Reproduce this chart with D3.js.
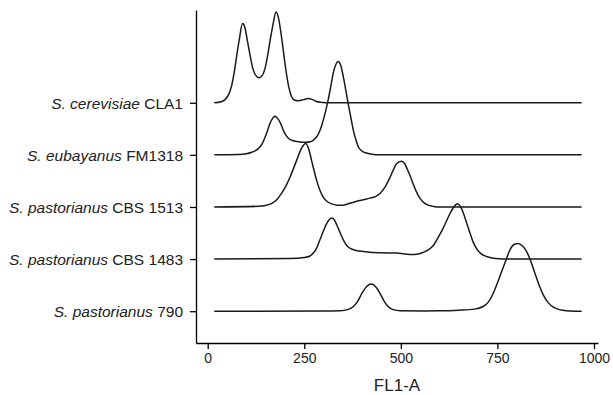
<!DOCTYPE html>
<html>
<head>
<meta charset="utf-8">
<script src="https://cdn.jsdelivr.net/npm/d3@7"></script>
<style>
  html, body { margin: 0; padding: 0; background: #fff; }
  svg { display: block; font-family: "Liberation Sans", Arial, sans-serif; }
</style>
</head>
<body>
<div id="chart"></div>
<script>
// Strains, bottom row first (ridge index 0 at the bottom)
const species = ['S. pastorianus', 'S. pastorianus', 'S. pastorianus', 'S. eubayanus', 'S. cerevisiae'];
const strains = ['790', 'CBS 1483', 'CBS 1513', 'FM1318', 'CLA1'];

const xTicks = [0, 250, 500, 750, 1000];
const xTitle = 'FL1-A';

// Density curves: [FL1-A, height in ridge-spacing units]
const pastorianus790 = [
  [17, 0], [300, 0.002], [343, 0.01], [362, 0.03], [377, 0.09], [389, 0.2], [399, 0.34],
  [412, 0.48], [424, 0.52], [436, 0.46], [446, 0.34], [457, 0.19], [467, 0.09], [480, 0.03],
  [498, 0.008], [560, 0.006], [601, 0.008], [650, 0.02], [690, 0.04], [713, 0.09], [727, 0.18],
  [739, 0.34], [750, 0.54], [761, 0.76], [772, 0.98], [782, 1.17], [793, 1.28], [804, 1.3],
  [815, 1.25], [826, 1.14], [837, 0.95], [847, 0.73], [858, 0.5], [869, 0.31], [882, 0.16],
  [895, 0.077], [910, 0.03], [929, 0.01], [968, 0]
];
const pastorianusCBS1483 = [
  [17, 0], [213, 0.01], [250, 0.03], [265, 0.06], [274, 0.12], [282, 0.21], [290, 0.36],
  [299, 0.53], [310, 0.71], [321, 0.79], [328, 0.75], [334, 0.66], [342, 0.52], [351, 0.37],
  [359, 0.27], [368, 0.21], [385, 0.165], [403, 0.146], [446, 0.12], [489, 0.115], [524, 0.09],
  [545, 0.1], [558, 0.13], [572, 0.18], [584, 0.26], [597, 0.42], [610, 0.6], [627, 0.87],
  [637, 1.0], [647, 1.06], [655, 1.0], [662, 0.88], [670, 0.7], [679, 0.5], [687, 0.33],
  [696, 0.2], [708, 0.1], [722, 0.05], [740, 0.015], [765, 0], [968, 0]
];
const pastorianusCBS1513 = [
  [17, 0], [131, 0.013], [150, 0.03], [166, 0.07], [180, 0.15], [191, 0.26], [203, 0.41],
  [213, 0.57], [230, 0.89], [243, 1.13], [254, 1.22], [262, 1.1], [269, 0.89], [276, 0.68],
  [282, 0.51], [290, 0.33], [299, 0.19], [310, 0.1], [321, 0.06], [336, 0.035], [351, 0.035],
  [368, 0.07], [386, 0.11], [403, 0.14], [420, 0.17], [434, 0.2], [446, 0.26], [459, 0.38],
  [472, 0.57], [481, 0.72], [489, 0.83], [502, 0.88], [510, 0.83], [517, 0.72], [525, 0.58],
  [532, 0.44], [541, 0.28], [550, 0.16], [560, 0.08], [571, 0.035], [585, 0.01], [600, 0], [968, 0]
];
const eubayanusFM1318 = [
  [17, 0], [79, 0.005], [100, 0.02], [114, 0.05], [131, 0.12], [140, 0.2], [148, 0.33],
  [155, 0.47], [161, 0.6], [168, 0.7], [174, 0.74], [181, 0.7], [189, 0.6], [197, 0.45],
  [204, 0.36], [212, 0.3], [222, 0.27], [239, 0.245], [255, 0.24], [265, 0.25], [273, 0.28],
  [285, 0.38], [295, 0.56], [304, 0.8], [312, 1.06], [319, 1.33], [325, 1.57], [332, 1.74],
  [338, 1.79], [345, 1.7], [351, 1.5], [358, 1.22], [364, 0.97], [371, 0.7], [377, 0.47],
  [384, 0.28], [390, 0.15], [400, 0.07], [411, 0.035], [425, 0.01], [446, 0], [968, 0]
];
const cerevisiaeCLA1 = [
  [17, 0], [35, 0.02], [45, 0.06], [55, 0.17], [62, 0.33], [69, 0.6], [75, 0.9], [82, 1.22],
  [90, 1.52], [96, 1.45], [103, 1.18], [110, 0.9], [116, 0.68], [124, 0.53], [133, 0.48],
  [141, 0.52], [148, 0.65], [155, 0.9], [161, 1.17], [169, 1.5], [177, 1.74], [184, 1.6],
  [190, 1.32], [197, 0.93], [203, 0.6], [210, 0.3], [217, 0.12], [225, 0.05], [235, 0.04],
  [248, 0.06], [260, 0.08], [270, 0.065], [280, 0.03], [292, 0.008], [305, 0], [968, 0]
];

const ridges = [pastorianus790, pastorianusCBS1483, pastorianusCBS1513, eubayanusFM1318, cerevisiaeCLA1];

const width = 613;
const height = 395;
const margin = { top: 10, right: 15, bottom: 52, left: 196 };

const svg = d3.select('#chart')
  .append('svg')
  .attr('width', width)
  .attr('height', height);

const x = d3.scaleLinear()
  .domain([-30.3, 1010.4])
  .range([margin.left, width - margin.right]);

const y = d3.scaleLinear()
  .domain([-0.61, 5.78])
  .range([height - margin.bottom, margin.top]);

// Ridge lines (no fill, baselines show through)
const ridgeLine = (row) => d3.line()
  .x(d => x(d[0]))
  .y(d => y(row + d[1]))
  .curve(d3.curveMonotoneX);

ridges.forEach((data, i) => {
  svg.append('path')
    .datum(data)
    .attr('fill', 'none')
    .attr('stroke', '#1a1a1a')
    .attr('stroke-width', 1.5)
    .attr('stroke-linejoin', 'round')
    .attr('d', ridgeLine(i));
});

// X axis
const xAxis = d3.axisBottom(x)
  .tickValues(xTicks)
  .tickFormat(d3.format('d'))
  .tickSize(6)
  .tickPadding(4)
  .tickSizeOuter(0);

const xAxisGroup = svg.append('g')
  .attr('transform', `translate(0,${height - margin.bottom})`)
  .call(xAxis);
xAxisGroup.select('.domain').attr('stroke', '#000').attr('stroke-width', 1.3);
xAxisGroup.selectAll('line').attr('stroke', '#000').attr('stroke-width', 1.3);
xAxisGroup.selectAll('text')
  .attr('fill', '#222')
  .style('font-size', '14px');

// Y axis with italic species + strain labels
const yAxis = d3.axisLeft(y)
  .tickValues(d3.range(strains.length))
  .tickFormat('')
  .tickSize(6)
  .tickSizeOuter(0);

const yAxisGroup = svg.append('g')
  .attr('transform', `translate(${margin.left},0)`)
  .call(yAxis);
yAxisGroup.select('.domain').attr('stroke', '#000').attr('stroke-width', 1.3);
yAxisGroup.selectAll('line').attr('stroke', '#000').attr('stroke-width', 1.3);

const labels = yAxisGroup.selectAll('text')
  .attr('x', -13)
  .attr('dy', '0.35em')
  .attr('fill', '#222')
  .style('font-size', '15.5px');

labels.each(function (d) {
  const t = d3.select(this);
  t.text(null);
  t.append('tspan').style('font-style', 'italic').text(species[d]);
  t.append('tspan').text(' ' + strains[d]);
});

// Axis title
svg.append('text')
  .attr('x', (margin.left + width - margin.right) / 2)
  .attr('y', 391)
  .attr('text-anchor', 'middle')
  .attr('fill', '#222')
  .style('font-size', '17px')
  .text(xTitle);
</script>
</body>
</html>
